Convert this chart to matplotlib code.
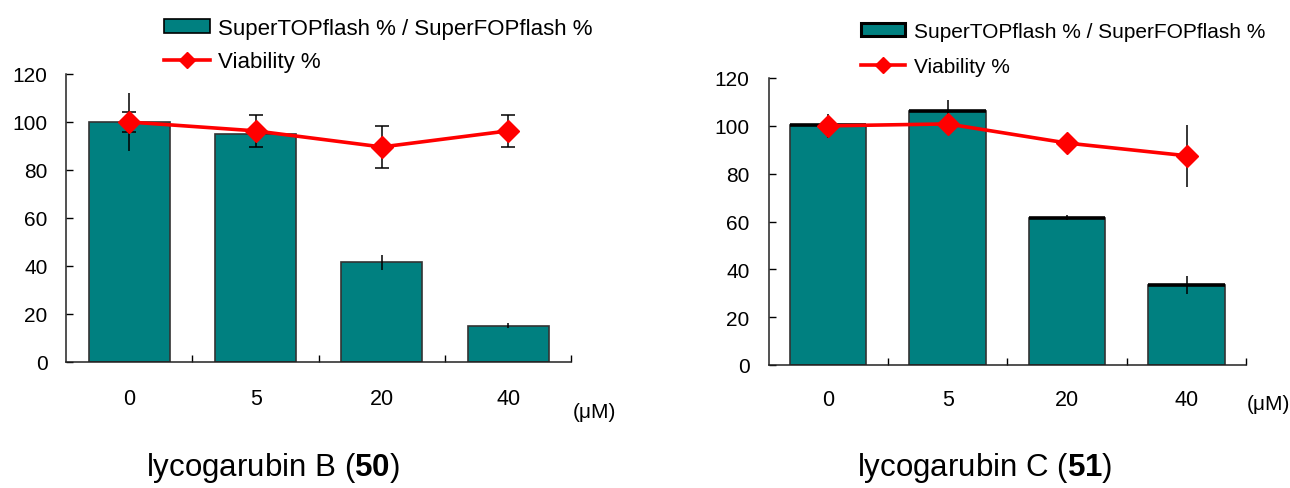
import matplotlib
matplotlib.use("Agg")
import matplotlib.pyplot as plt
from matplotlib.patches import Patch
from matplotlib.lines import Line2D

plt.rcParams['font.family'] = ['Liberation Sans', 'DejaVu Sans']
plt.rcParams['mathtext.fontset'] = 'custom'
plt.rcParams['mathtext.rm'] = 'Liberation Sans'
plt.rcParams['mathtext.bf'] = 'Liberation Sans:bold'

# concentrations (uM)
concentrations = ['0', '5', '20', '40']

# lycogarubin B (50)
b_ratio = [100, 95, 41.5, 15.2]
b_ratio_err = [12, 3, 3, 1.2]
b_viability = [100, 96.3, 89.6, 96.3]
b_viability_err = [4.2, 6.8, 8.7, 6.8]

# lycogarubin C (51)
c_ratio = [100.3, 106.2, 61.6, 33.5]
c_ratio_err = [0.5, 4.6, 1.0, 3.8]
c_viability = [100, 100.8, 92.8, 87.5]
c_viability_err = [5, 1, 1, 13]

y_ticks = [0, 20, 40, 60, 80, 100, 120]

TEAL = '#008080'
RED = '#ff0000'
EDGE = '#333333'
W, H = 1290, 489

fig = plt.figure(figsize=(W / 100, H / 100), dpi=100)


def panel(rect, ratio, ratio_err, viab, viab_err, caps, top_line,
          ylab_pad, xlab_pad):
    ax = fig.add_axes(rect)
    x = list(range(len(concentrations)))
    bw = 0.64
    ax.bar(x, ratio, width=bw, color=TEAL, edgecolor=EDGE, linewidth=1.2,
           zorder=2)
    if top_line:
        ax.hlines(ratio, [i - bw / 2 for i in x], [i + bw / 2 for i in x],
                  colors='black', linewidth=2.6, zorder=3)
    ax.errorbar(x, ratio, yerr=ratio_err, fmt='none', ecolor='black',
                elinewidth=1.1, capsize=0, zorder=3)
    ax.errorbar(x, viab, yerr=viab_err, fmt='none', ecolor='black',
                elinewidth=1.1, capsize=4.7 if caps else 0, capthick=1.1,
                zorder=4)
    ax.plot(x, viab, color=RED, linewidth=2.6, marker='D', markersize=11.5,
            zorder=5)
    ax.set_xlim(-0.5, len(x) - 0.5)
    ax.set_ylim(0, 120)
    ax.set_yticks(y_ticks)
    ax.tick_params(axis='y', direction='in', length=5, width=1,
                   labelsize=15, pad=ylab_pad)
    # category boundary ticks on the x axis, labels at the centres
    ax.set_xticks([i + 0.5 for i in x])
    ax.set_xticks(x, minor=True)
    ax.set_xticklabels([])
    ax.set_xticklabels(concentrations, minor=True)
    ax.tick_params(axis='x', which='major', direction='in', length=5,
                   width=1)
    ax.tick_params(axis='x', which='minor', length=0, labelsize=15.5,
                   pad=xlab_pad)
    for s in ('top', 'right'):
        ax.spines[s].set_visible(False)
    for s in ('left', 'bottom'):
        ax.spines[s].set_linewidth(1.1)
        ax.spines[s].set_color('#222222')
    return ax


ax1 = panel([66.2 / W, 1 - 363 / H, 505.1 / W, 288 / H],
            b_ratio, b_ratio_err, b_viability, b_viability_err,
            caps=True, top_line=False, ylab_pad=13.5, xlab_pad=19)
ax2 = panel([768.5 / W, 1 - 366 / H, 477.8 / W, 287 / H],
            c_ratio, c_ratio_err, c_viability, c_viability_err,
            caps=False, top_line=True, ylab_pad=13.7, xlab_pad=17.6)

labels = ['SuperTOPflash % / SuperFOPflash %', 'Viability %']
for (lx, ly, fs, hl, hp, ls, pe) in ((163.5, 18.7, 16, 2.1, 0.34, 0.57, 1.2),
                                      (860.5, 22.5, 15, 2.15, 0.42, 0.78, 2.2)):
    handles = [
        Patch(facecolor=TEAL, edgecolor='black', linewidth=pe),
        Line2D([0], [0], color=RED, linewidth=2.6, marker='D',
               markersize=8),
    ]
    fig.legend(handles, labels, loc='upper left',
               bbox_to_anchor=(lx / W, 1 - ly / H),
               frameon=False, fontsize=fs, handlelength=hl,
               handleheight=0.6, handletextpad=hp, labelspacing=ls,
               borderpad=0, borderaxespad=0)

fig.text(594 / W, 1 - 413 / H, '(\u03bcM)', ha='center', va='center',
         fontsize=15)
fig.text(1268 / W, 1 - 405 / H, '(\u03bcM)', ha='center', va='center',
         fontsize=15)

fig.text(273 / W, 1 - 468 / H, r'lycogarubin B ($\mathbf{50}$)',
         ha='center', va='center', fontsize=22.5)
fig.text(985 / W, 1 - 468 / H, r'lycogarubin C ($\mathbf{51}$)',
         ha='center', va='center', fontsize=22.5)

fig.savefig('out.png', dpi=100)
